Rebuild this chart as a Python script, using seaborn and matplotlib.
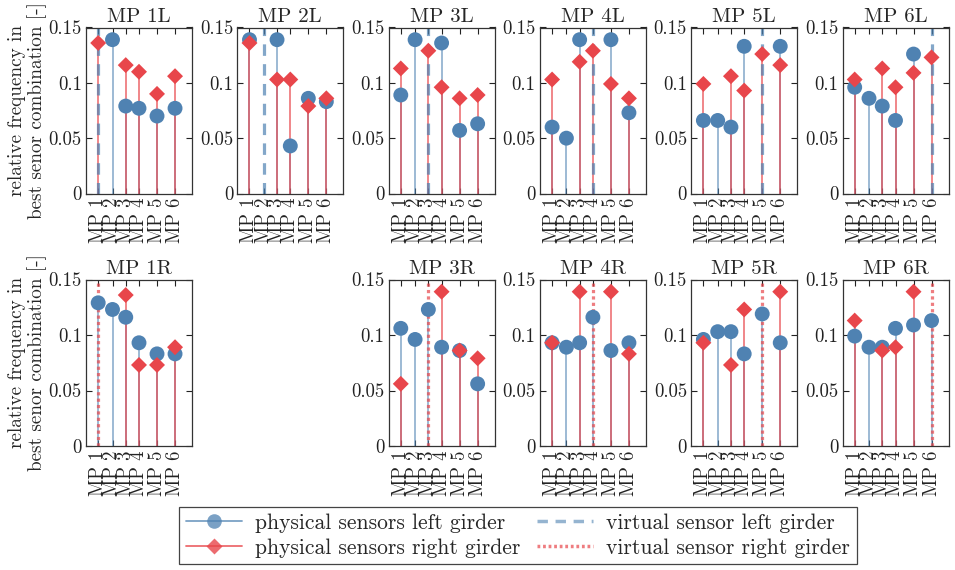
import numpy as np
import pandas as pd
import matplotlib
matplotlib.use("Agg")
import matplotlib.pyplot as plt
from matplotlib.lines import Line2D
from matplotlib.legend_handler import HandlerLine2D
import seaborn as sns

nan = np.nan

# Measurement points along the girder (relative position) and their labels
sensor_x = [0.115, 0.25, 0.375, 0.50, 0.67, 0.84]
sensor_labels = ["MP 1", "MP 2", "MP 3", "MP 4", "MP 5", "MP 6"]

# Panels where a left-girder sensor is virtual
titles_left = ["MP 1L", "MP 2L", "MP 3L", "MP 4L", "MP 5L", "MP 6L"]
freq_left_top = [
    [nan, 0.139, 0.079, 0.077, 0.070, 0.077],
    [0.139, nan, 0.139, 0.043, 0.086, 0.083],
    [0.089, 0.139, nan, 0.136, 0.057, 0.063],
    [0.060, 0.050, 0.139, nan, 0.139, 0.073],
    [0.066, 0.066, 0.060, 0.133, nan, 0.133],
    [0.096, 0.086, 0.079, 0.066, 0.126, nan],
]
freq_right_top = [
    [0.136, nan, 0.116, 0.110, 0.090, 0.106],
    [0.136, nan, 0.103, 0.103, 0.079, 0.086],
    [0.113, nan, 0.129, 0.096, 0.086, 0.089],
    [0.103, nan, 0.119, 0.129, 0.099, 0.086],
    [0.099, nan, 0.106, 0.093, 0.126, 0.116],
    [0.103, nan, 0.113, 0.096, 0.109, 0.123],
]

# Panels where a right-girder sensor is virtual (no sensor at MP 2R)
titles_right = ["MP 1R", None, "MP 3R", "MP 4R", "MP 5R", "MP 6R"]
freq_left_bottom = [
    [0.129, 0.123, 0.116, 0.093, 0.083, 0.083],
    None,
    [0.106, 0.096, 0.123, 0.089, 0.086, 0.056],
    [0.093, 0.089, 0.093, 0.116, 0.086, 0.093],
    [0.096, 0.103, 0.103, 0.083, 0.119, 0.093],
    [0.099, 0.089, 0.089, 0.106, 0.109, 0.113],
]
freq_right_bottom = [
    [nan, nan, 0.136, 0.073, 0.073, 0.089],
    None,
    [0.056, nan, nan, 0.139, 0.086, 0.079],
    [0.093, nan, 0.139, nan, 0.139, 0.083],
    [0.093, nan, 0.073, 0.123, nan, 0.139],
    [0.113, nan, 0.086, 0.089, 0.139, nan],
]

yticks = [0, 0.05, 0.1, 0.15]
ytick_labels = ["0", "0.05", "0.1", "0.15"]

BLUE = "#4f82b2"
RED = "#e8464b"

sns.set_style("ticks")
plt.rcParams["font.family"] = ["cmr10", "DejaVu Serif"]
plt.rcParams["mathtext.fontset"] = "cm"
plt.rcParams["axes.formatter.use_mathtext"] = True

W, H = 955, 570
fig = plt.figure(figsize=(W / 100, H / 100), dpi=100)

lefts = [86 + 151.3 * i for i in range(6)]
ax_w = 106
rows = [(27.5, 193.5), (279.5, 446.0)]


def draw_panel(ax, title, left_vals, right_vals, virtual_idx, virtual_side):
    df_l = pd.DataFrame({"pos": sensor_x, "freq": left_vals}).dropna()
    df_r = pd.DataFrame({"pos": sensor_x, "freq": right_vals}).dropna()

    # stems
    ax.vlines(df_l["pos"], 0, df_l["freq"], color=BLUE, alpha=0.6, lw=1.3, zorder=2)
    ax.vlines(df_r["pos"], 0, df_r["freq"], color=RED, alpha=0.7, lw=1.3, zorder=2.1)

    # virtual sensor line
    xv = sensor_x[virtual_idx]
    if virtual_side == "left":
        ax.axvline(xv, color=BLUE, alpha=0.7, lw=2.3, dashes=(3.6, 2.6), zorder=2.5)
    else:
        ax.axvline(xv, color=RED, alpha=0.7, lw=2.3, dashes=(1.0, 1.0), zorder=2.5)

    # stem heads
    sns.scatterplot(data=df_l, x="pos", y="freq", marker="o", color=BLUE,
                    s=115, edgecolor="none", linewidth=0, ax=ax, zorder=3, legend=False)
    sns.scatterplot(data=df_r, x="pos", y="freq", marker="D", color=RED,
                    s=66, edgecolor="none", linewidth=0, ax=ax, zorder=3.5, legend=False)

    ax.set_xlim(0, 1)
    ax.set_ylim(0, 0.15)
    ax.set_xticks(sensor_x)
    ax.set_xticklabels(sensor_labels, rotation=90, fontsize=13.5)
    ax.set_yticks(yticks)
    ax.set_yticklabels(ytick_labels, fontsize=13.5)
    ax.tick_params(direction="in", length=4, width=0.8, top=True, right=True,
                   colors="#222222", pad=3)
    ax.set_xlabel("")
    ax.set_ylabel("")
    for sp in ax.spines.values():
        sp.set_visible(True)
        sp.set_linewidth(0.9)
        sp.set_color("#333333")
    ax.set_title(title, fontsize=15, pad=4)


ylabel = "relative frequency in\nbest senor combination [-]"

for r, (titles, lvals, rvals, side) in enumerate([
        (titles_left, freq_left_top, freq_right_top, "left"),
        (titles_right, freq_left_bottom, freq_right_bottom, "right")]):
    top, bottom = rows[r]
    for c in range(6):
        if titles[c] is None:
            continue
        ax = fig.add_axes([lefts[c] / W, 1 - bottom / H, ax_w / W, (bottom - top) / H])
        draw_panel(ax, titles[c], lvals[c], rvals[c], c, side)
        if c == 0:
            ax.set_ylabel(ylabel, fontsize=13.8, linespacing=1.1)
            ax.yaxis.set_label_coords(-0.37, 0.5)


class MarkerAtEnd(HandlerLine2D):
    """Legend line with its marker sitting at the right end."""

    def get_xdata(self, legend, xdescent, ydescent, width, height, fontsize):
        xdata = np.array([-xdescent, -xdescent + width])
        xmark = np.array([-xdescent + width - 0.25 * fontsize])
        return xdata, xmark


handles = [
    Line2D([], [], color=BLUE, alpha=0.75, lw=1.3, marker="o", markersize=10.5,
           markerfacecolor=BLUE, markeredgecolor="none"),
    Line2D([], [], color=RED, alpha=0.8, lw=1.3, marker="D", markersize=7.8,
           markerfacecolor=RED, markeredgecolor="none"),
    Line2D([], [], color=BLUE, alpha=0.6, lw=2.5, dashes=(3.0, 2.2)),
    Line2D([], [], color=RED, alpha=0.7, lw=2.5, dashes=(0.8, 0.8)),
]
labels = ["physical sensors left girder", "physical sensors right girder",
          "virtual sensor left girder", "virtual sensor right girder"]
leg = fig.legend(handles, labels, ncol=2, loc="upper center",
                 bbox_to_anchor=(518 / W, 1 - 507 / H), borderaxespad=0,
                 numpoints=1,
                 handler_map={handles[0]: MarkerAtEnd(), handles[1]: MarkerAtEnd()},
                 fontsize=15.5, frameon=True, fancybox=False, framealpha=1,
                 edgecolor="#444444", handlelength=2.6, handletextpad=0.6,
                 columnspacing=0.8, labelspacing=0.25, borderpad=0.3)
leg.get_frame().set_linewidth(0.9)

fig.savefig("out.png", dpi=100)
